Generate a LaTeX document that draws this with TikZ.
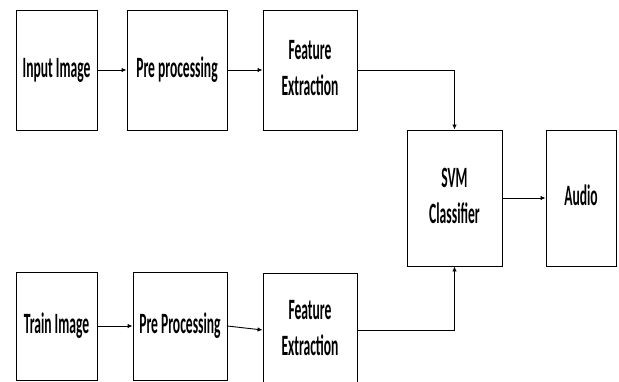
\documentclass[tikz,border=0pt]{standalone}
\usepackage{fontspec}
\setmainfont{Carlito}
\usetikzlibrary{arrows.meta}
\newcommand{\narrowtext}[1]{\scalebox{0.46}[1]{\begin{tabular}{@{}c@{}}#1\end{tabular}}}

\begin{document}
\begin{tikzpicture}[x=1pt,y=-1pt,
	blk/.style={draw,line width=0.9pt,inner sep=0pt,font=\fontsize{29.5}{36}\selectfont\bfseries},
	arr/.style={line width=0.9pt,-{Latex[length=5pt,width=4.5pt]}}]

\useasboundingbox (0,0) rectangle (619,381);
\clip (0,0) rectangle (619,381);

% input path
\node[blk,minimum width=81pt,minimum height=120pt] (inimg) at (56.5,70) {\narrowtext{Input Image}};
\node[blk,minimum width=100pt,minimum height=120pt] (inpre) at (177,70) {\narrowtext{Pre processing}};
\node[blk,minimum width=94pt,minimum height=120pt] (infeat) at (310,70) {\narrowtext{Feature\\Extraction}};

% training path
\node[blk,minimum width=81pt,minimum height=108pt] (trimg) at (56.5,326) {\narrowtext{Train Image}};
\node[blk,minimum width=94pt,minimum height=108pt] (trpre) at (180,326) {\narrowtext{Pre Processing}};
\node[blk,minimum width=94pt,minimum height=114pt] (trfeat) at (310,330) {\narrowtext{Feature\\Extraction}};

% classifier and output
\node[blk,minimum width=95pt,minimum height=136pt] (svm) at (454.5,198) {\narrowtext{SVM\\Classifier}};
\node[blk,minimum width=70pt,minimum height=136pt] (audio) at (581,198) {\narrowtext{Audio}};

\draw[arr] (inimg) -- (inpre);
\draw[arr] (inpre) -- (infeat);
\draw[arr] (infeat.east) -| (svm.north);
\draw[arr] (trimg) -- (trpre);
\draw[arr] (trpre.east) -- (trfeat.west);
\draw[arr] (trfeat.east) -| (svm.south);
\draw[arr] (svm) -- (audio);

\end{tikzpicture}
\end{document}
